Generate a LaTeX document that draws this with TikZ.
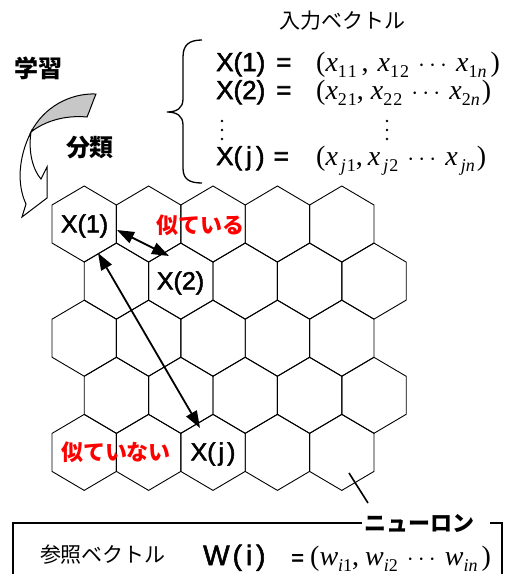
\documentclass[tikz,border=0pt]{standalone}
\usepackage{fontspec}
\setmainfont{Liberation Sans}
\newfontfamily\arl{Liberation Sans}[FakeBold=2]
\newfontfamily\tms{Liberation Serif}
\newfontfamily\jp{Noto Sans CJK JP}
\usetikzlibrary{arrows.meta}
\newcommand\sbx[2]{\textit{#1}\raisebox{-6pt}{\fontsize{18}{18}\selectfont #2}}
\newcommand\fs[1]{\fontsize{#1}{#1}\selectfont}
\newcommand\cd{\hspace{9pt}$\cdots$\hspace{9pt}}
\begin{document}
\begin{tikzpicture}[x=1pt,y=-1pt,
  hexline/.style={line width=0.9pt},
  hexlbl/.style={inner sep=0pt,font=\arl\fs{25}},
  eqlbl/.style={inner sep=0pt,anchor=base west,font=\arl\fs{26}},
  mathrow/.style={inner sep=0pt,anchor=base west,font=\tms\fs{28}},
  redlbl/.style={inner sep=0pt,text=red,font=\jp\bfseries\fs{22}},
  jplbl/.style={inner sep=0pt,font=\jp\fs{21}},
  jpbold/.style={inner sep=0pt,font=\jp\bfseries\fs{24}},
  dblarr/.style={line width=1.8pt,{Triangle[length=17pt,width=12pt]}-{Triangle[length=17pt,width=12pt]}},
  thinline/.style={line width=1.1pt}]
\useasboundingbox (0,0) rectangle (510,574);

% hexagon grid
\foreach \r in {0,...,4}{
  \foreach \c in {0,...,4}{
    \pgfmathsetmacro\cx{84.2+\c*64.4+mod(\r,2)*32.2}
    \pgfmathsetmacro\cy{224+\r*57.1}
    \draw[hexline] (\cx,\cy-38) -- ++(32.2,19) -- ++(0,38) -- ++(-32.2,19)
      -- ++(-32.2,-19) -- ++(0,-38) -- cycle;
  }
}

% hex labels
\node[hexlbl] (x1) at (84.5,226) {X(1)};
\node[hexlbl] (x2) at (180.5,283) {X(2)};
\node[hexlbl] (xj) at (213,454) {X(\hspace{3pt}j\hspace{3pt})};
\node[redlbl] (sim) at (200,225) {似ている};
\node[redlbl] (dis) at (116,452) {似ていない};

% arrows
\coordinate (a1) at (117,230);
\coordinate (a2) at (169,256);
\draw[dblarr] (a1) -- (a2);
\coordinate (b1) at (98,253);
\coordinate (b2) at (200,428);
\draw[dblarr] (b1) -- (b2);

% top texts
\node[jplbl] (inv) at (342,21) {入力ベクトル};
\node[jpbold] (gaku) at (39,68) {学習};
\node[jpbold] (bun) at (90,148) {分類};

% brace
\draw[line width=1.3pt] (202,40) .. controls (189,40) and (183,45) .. (183,57) -- (183,99)
  .. controls (183,108) and (177,112) .. (167,112)
  .. controls (177,112) and (183,116) .. (183,125) -- (183,168)
  .. controls (183,179) and (189,183) .. (202,183);

% equations
\node[eqlbl] (e1) at (216,71) {X(1)\hspace{11pt}=};
\node[eqlbl] (e2) at (216,99) {X(2)\hspace{11pt}=};
\node[eqlbl] (ej) at (216,165) {X(\hspace{4pt}j\hspace{4pt})\hspace{9pt}=};
\node[mathrow] (m1) at (316,71) {(\sbx{x}{1\hspace{1pt}1}\,,\hspace{9pt}\sbx{x}{1\hspace{1pt}2}\cd\sbx{x}{1\textit{n}}\hspace{4pt})};
\node[mathrow] (m2) at (316,99) {(\sbx{x}{2\hspace{1pt}1},\hspace{7pt}\sbx{x}{2\hspace{1pt}2}\cd\sbx{x}{2\textit{n}}\hspace{2pt})};
\node[mathrow] (mj) at (316,165) {(\sbx{x}{\,\textit{j}\hspace{1pt}1},\hspace{5pt}\sbx{x}{\,\textit{j}\hspace{1pt}2}\cd\sbx{x}{\,\textit{jn}}\hspace{2pt})};
\foreach \yy in {121,130,139}{
  \fill (222,\yy) circle (1.4pt);
  \fill (387,\yy) circle (1.4pt);
}

% curved arrow (twisted ribbon)
\draw[line width=1pt,fill=black!22] (96,94) .. controls (70,93) and (44,107) .. (31,132)
  .. controls (45,121) and (65,115) .. (87,117) .. controls (90,110) and (93,101) .. (96,94) -- cycle;
\draw[line width=1pt,fill=white] (31,132) .. controls (18,158) and (17,185) .. (26,204)
  -- (22,217) -- (47,198) -- (47,167) -- (41,179)
  .. controls (33,170) and (28,152) .. (31,132) -- cycle;

% neuron pointer
\node[inner sep=0pt,font=\jp\bfseries\fs{22}] (neu) at (419,523) {ニューロン};
\coordinate (n1) at (349,473);
\coordinate (n2) at (368,503);
\draw[line width=1.6pt] (n1) -- (n2);

% bottom box
\draw[thinline] (362,523) -- (13,523) -- (13,576);
\draw[thinline] (490,523) -- (502,523) -- (502,576);
\node[jplbl] (ref) at (103,555) {参照ベクトル};
\node[inner sep=0pt,anchor=base west,font=\arl\fs{28}] (w) at (203,565) {W\hspace{3pt}(\hspace{4pt}i\hspace{4pt})};
\node[inner sep=0pt,anchor=base west,font=\arl\fs{22}] (weq) at (291,565) {=};
\node[mathrow] (mw) at (310,565) {(\sbx{w}{\textit{i}1},\hspace{6pt}\sbx{w}{\textit{i}2}\cd\sbx{w}{\textit{in}}\hspace{4pt})};
\end{tikzpicture}
\end{document}
